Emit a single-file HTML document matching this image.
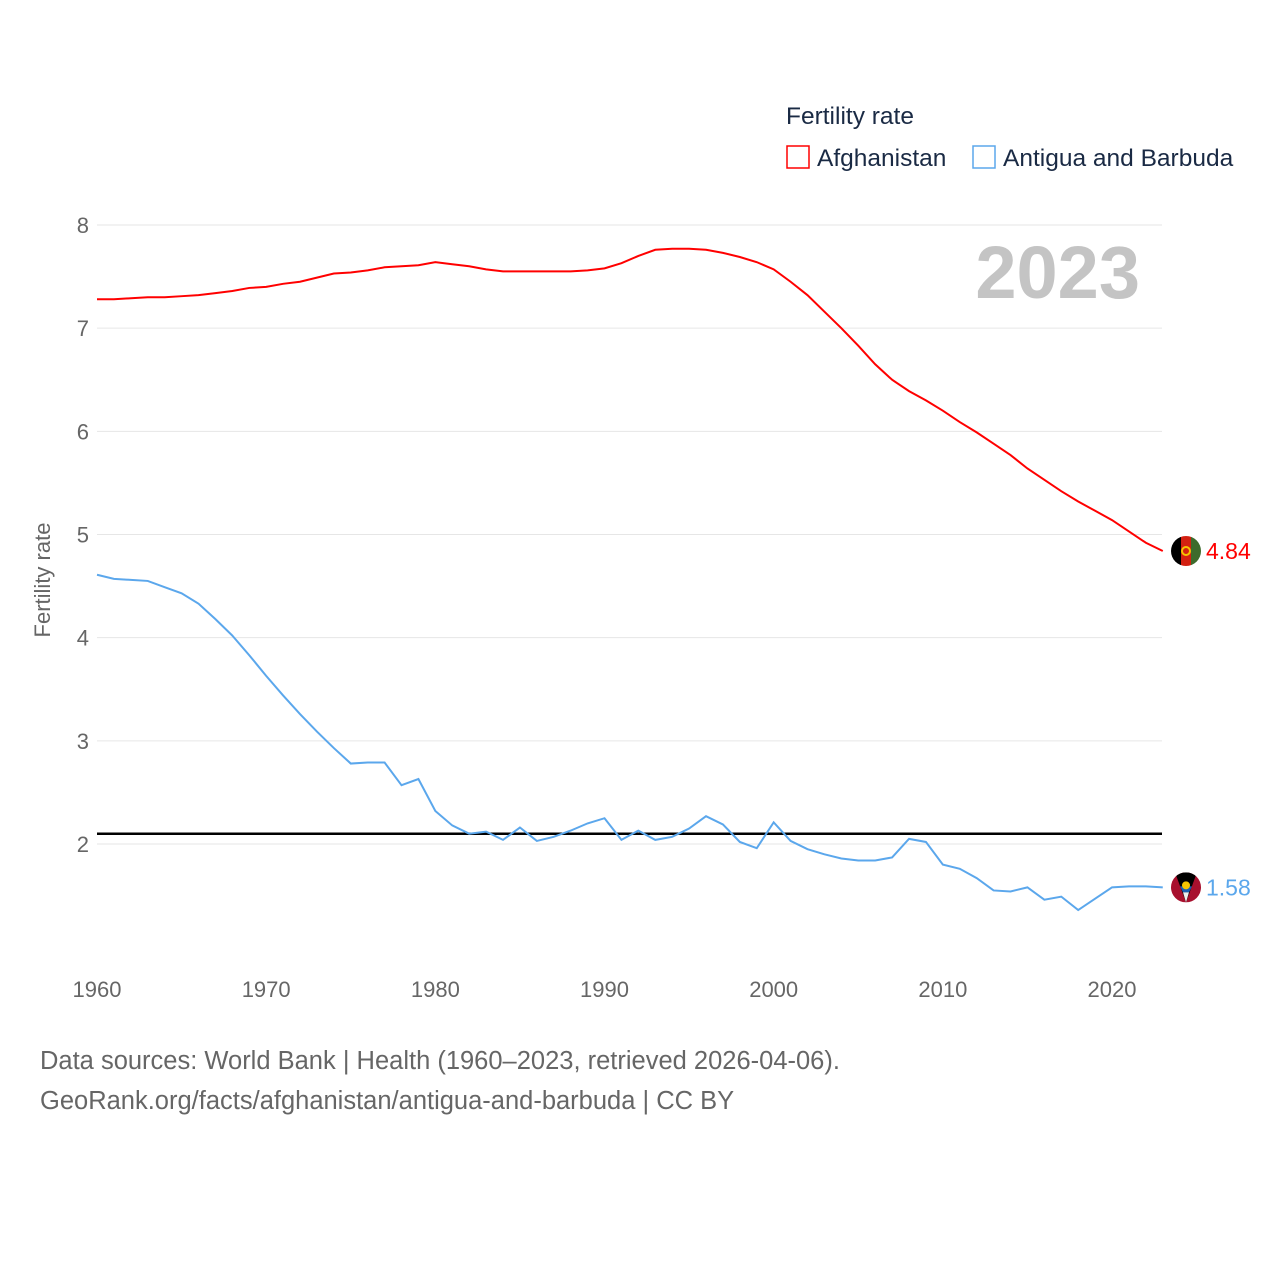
<!DOCTYPE html>
<html><head><meta charset="utf-8"><style>
html,body{margin:0;padding:0;background:#fff;width:1280px;height:1280px;overflow:hidden}
svg text{font-family:"Liberation Sans",sans-serif}
</style></head><body>
<svg id="chart" width="1280" height="1280">
<g id="grid"></g>
<g id="yticks"></g>
<g id="xticks"></g>
<text x="50" y="580" font-size="22" fill="#666" text-anchor="middle" transform="rotate(-90 50 580)">Fertility rate</text>
<text x="1140" y="298" font-size="74" font-weight="bold" fill="#c4c4c4" text-anchor="end">2023</text>
<text x="786" y="124" font-size="24.5" fill="#1a2a44">Fertility rate</text>
<g><rect x="787" y="146" width="22" height="22" fill="none" stroke="#ff0000" stroke-width="1.5"/><text x="817" y="166" font-size="24.5" fill="#1a2a44">Afghanistan</text></g>
<g><rect x="973" y="146" width="22" height="22" fill="none" stroke="#5ba7ec" stroke-width="1.5"/><text x="1003" y="166" font-size="24.5" fill="#1a2a44">Antigua and Barbuda</text></g>
<g id="series"></g>
<text x="40" y="1069" font-size="25.5" fill="#666">Data sources: World Bank | Health (1960–2023, retrieved 2026-04-06).</text>
<text x="40" y="1109" font-size="25.5" fill="#666">GeoRank.org/facts/afghanistan/antigua-and-barbuda | CC BY</text>
</svg>
<script>
const years=[];for(let y=1960;y<=2023;y++)years.push(y);
const afghanistan=[7.28,7.28,7.29,7.30,7.30,7.31,7.32,7.34,7.36,7.39,7.40,7.43,7.45,7.49,7.53,7.54,7.56,7.59,7.60,7.61,7.64,7.62,7.60,7.57,7.55,7.55,7.55,7.55,7.55,7.56,7.58,7.63,7.70,7.76,7.77,7.77,7.76,7.73,7.69,7.64,7.57,7.45,7.32,7.16,7.00,6.83,6.65,6.50,6.39,6.30,6.20,6.09,5.99,5.88,5.77,5.64,5.53,5.42,5.32,5.23,5.14,5.03,4.92,4.84];
const antigua=[4.61,4.57,4.56,4.55,4.49,4.43,4.33,4.18,4.02,3.83,3.63,3.44,3.26,3.09,2.93,2.78,2.79,2.79,2.57,2.63,2.32,2.18,2.10,2.12,2.04,2.16,2.03,2.07,2.13,2.20,2.25,2.04,2.13,2.04,2.07,2.15,2.27,2.19,2.02,1.96,2.21,2.03,1.95,1.90,1.86,1.84,1.84,1.87,2.05,2.02,1.80,1.76,1.67,1.55,1.54,1.58,1.46,1.49,1.36,1.47,1.58,1.59,1.59,1.58];
const yTicks=[2,3,4,5,6,7,8];
const xTicks=[1960,1970,1980,1990,2000,2010,2020];
const replacement=2.1;
const X=y=>97+(y-1960)*16.917;
const Y=v=>225+(8-v)*103.17;
const NS="http://www.w3.org/2000/svg";
function el(t,a,p){const e=document.createElementNS(NS,t);for(const k in a)e.setAttribute(k,a[k]);document.getElementById(p).appendChild(e);return e;}
yTicks.forEach(v=>{
 const l=el('line',{x1:97,x2:1162,y1:Y(v),y2:Y(v),stroke:'#e6e6e6','stroke-width':1},'grid');
 
 
 const t=el('text',{x:89,y:Y(v)+8,'font-size':22,fill:'#666','text-anchor':'end'},'yticks');t.textContent=v;
 
 
});
xTicks.forEach(v=>{
 const t=el('text',{x:X(v),y:997,'font-size':22,fill:'#666','text-anchor':'middle'},'xticks');t.textContent=v;
 
 
});
const rl=el('line',{x1:97,x2:1162,y1:Y(replacement),y2:Y(replacement),stroke:'#000','stroke-width':2.5},'series');


function line(arr,c,name){
 const p=el('polyline',{points:arr.map((v,i)=>X(years[i])+','+Y(v)).join(' '),fill:'none',stroke:c,'stroke-width':2},'series');
 
 
}
line(antigua,'#5ba7ec','antigua-line');
line(afghanistan,'#ff0000','afghanistan-line');
function endLabel(arr,c,name,flag){
 const v=arr[arr.length-1],y=Y(v),x=1186;
 const g=el('g',{},'series');
 
 
 g.innerHTML=flag(x,y)+`<text x="${x+20}" y="${y+8}" font-size="23" fill="${c}">${v.toFixed(2)}</text>`;
}
endLabel(afghanistan,'#ff0000','afghanistan-end-label',(x,y)=>`<clipPath id="ca"><circle cx="${x}" cy="${y}" r="15"/></clipPath><g clip-path="url(#ca)"><rect x="${x-15}" y="${y-15}" width="10" height="30" fill="#000"/><rect x="${x-5}" y="${y-15}" width="10" height="30" fill="#d32011"/><rect x="${x+5}" y="${y-15}" width="10" height="30" fill="#3e6b2c"/><circle cx="${x}" cy="${y}" r="4" fill="none" stroke="#f5c400" stroke-width="2"/></g>`);
endLabel(antigua,'#5ba7ec','antigua-end-label',(x,y)=>`<clipPath id="cb"><circle cx="${x}" cy="${y}" r="15"/></clipPath><g clip-path="url(#cb)"><rect x="${x-15}" y="${y-15}" width="30" height="30" fill="#a8102e"/><polygon points="${x-11},${y-15} ${x+11},${y-15} ${x},${y+15}" fill="#000"/><polygon points="${x-6},${y-1} ${x+6},${y-1} ${x+3},${y+5} ${x-3},${y+5}" fill="#1a5fb4"/><polygon points="${x-3},${y+5} ${x+3},${y+5} ${x},${y+15}" fill="#eee"/><circle cx="${x}" cy="${y-2}" r="4" fill="#f5c400"/></g>`);
</script>
</body></html>
